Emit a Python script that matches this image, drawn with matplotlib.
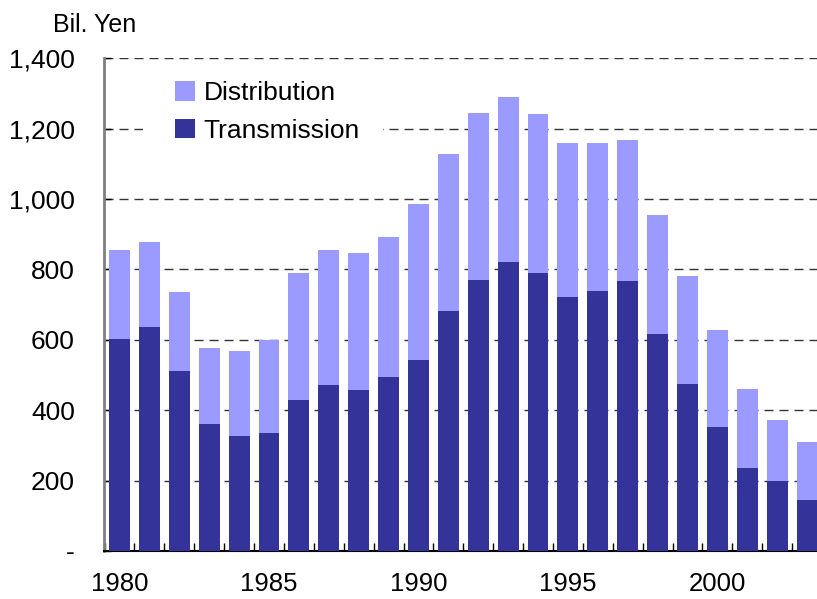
import numpy as np
import matplotlib.pyplot as plt
from matplotlib.patches import Rectangle
from matplotlib.ticker import FixedLocator, FuncFormatter

plt.rcParams['font.family'] = ['Liberation Sans', 'DejaVu Sans']

# data (billion yen)
years = list(range(1980, 2004))
transmission = [602, 636, 511, 361, 327, 335, 429, 472, 457, 494, 543, 682,
                770, 821, 790, 722, 739, 767, 616, 474, 352, 236, 199, 145]
total = [855, 878, 736, 577, 568, 599, 790, 855, 847, 892, 986, 1128,
         1244, 1290, 1241, 1159, 1159, 1168, 955, 781, 628, 460, 372, 310]
distribution = [t - s for t, s in zip(total, transmission)]
year_labels = [1980, 1985, 1990, 1995, 2000]
y_ticks = [0, 200, 400, 600, 800, 1000, 1200, 1400]

col_dist = '#9B9BFF'
col_trans = '#333399'

fig = plt.figure(figsize=(8.17, 5.99), dpi=100)
ax = fig.add_axes([104 / 817, 1 - 551 / 599, (822 - 104) / 817, (551 - 58.3) / 599])

x = np.array(years)
ax.bar(x, transmission, width=0.7, color=col_trans, label='Transmission', zorder=3)
ax.bar(x, distribution, width=0.7, bottom=transmission, color=col_dist,
       label='Distribution', zorder=3)

# dashed gridlines (not at zero)
for v in y_ticks[1:]:
    ax.axhline(v, color='#333333', linewidth=1.0, dashes=(6.5, 4.3), zorder=1)

# white box behind the legend hides the gridline there
ax.add_patch(Rectangle((143 / 817, 1 - 150 / 599), 240 / 817, 80 / 599,
                       transform=fig.transFigure, facecolor='white',
                       edgecolor='none', zorder=2))

ax.set_xlim(1980 - 0.52, 2003.5)
ax.set_ylim(0, 1400)

ax.yaxis.set_major_locator(FixedLocator(y_ticks))
ax.yaxis.set_major_formatter(FuncFormatter(lambda v, p: '-' if v == 0 else f'{int(v):,}'))
ax.tick_params(axis='y', direction='in', length=5, width=1, color='black',
               labelsize=19, pad=21)

ax.xaxis.set_major_locator(FixedLocator(year_labels))
ax.xaxis.set_minor_locator(FixedLocator([y + 0.5 for y in years[:-1]] + [1979.5]))
ax.tick_params(axis='x', which='major', length=0, labelsize=18.5, pad=15)
ax.tick_params(axis='x', which='minor', direction='in', length=6, width=1, color='black')

for side in ['top', 'right']:
    ax.spines[side].set_visible(False)
ax.spines['left'].set_color('#808080')
ax.spines['left'].set_linewidth(2)
ax.spines['bottom'].set_color('black')
ax.spines['bottom'].set_linewidth(1.5)

handles, labels = ax.get_legend_handles_labels()
ax.legend(handles[::-1], labels[::-1], loc='upper left',
          bbox_to_anchor=(175 / 817, 1 - 81 / 599), bbox_transform=fig.transFigure,
          frameon=False, fontsize=19, handlelength=0.76, handleheight=0.76,
          handletextpad=0.32, labelspacing=0.52, borderpad=0, borderaxespad=0)

fig.text(53 / 817, 1 - 25 / 599, 'Bil. Yen', fontsize=18, va='center', ha='left')

fig.savefig('out.png', dpi=100)
